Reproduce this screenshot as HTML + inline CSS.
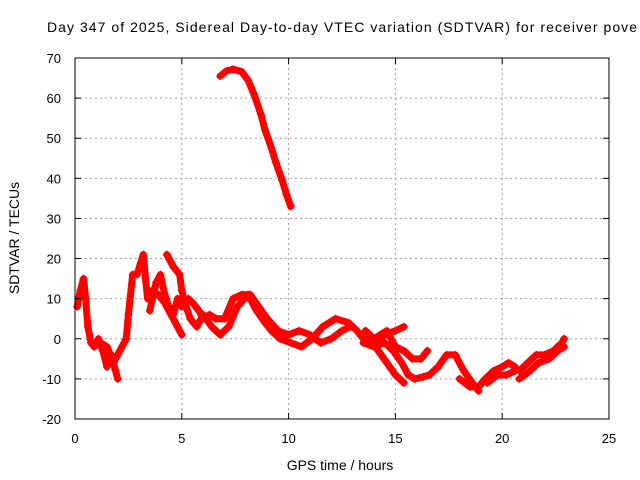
<!DOCTYPE html>
<html><head><meta charset="utf-8"><style>body{margin:0;background:#fff;overflow:hidden}svg{display:block;font-family:"Liberation Sans",sans-serif}</style></head>
<body>
<svg id="chart" width="640" height="480" viewBox="0 0 640 480">
<rect width="640" height="480" fill="#fff"/>
<text x="47" y="32" font-size="14" fill="#000" textLength="590" lengthAdjust="spacing">Day 347 of 2025, Sidereal Day-to-day VTEC variation (SDTVAR) for receiver pove</text>
<g id="grid"></g>
<g id="marks"></g>
<rect x="75" y="58" width="534" height="361" fill="none" stroke="#000" stroke-width="1"/>
<g id="ticks"></g>
<text x="340" y="470" font-size="14" text-anchor="middle">GPS time / hours</text>
<text transform="translate(19,238) rotate(-90)" font-size="14" text-anchor="middle">SDTVAR / TECUs</text>
</svg>
<script>
const xTicks=[0,5,10,15,20,25];
const yTicks=[-20,-10,0,10,20,30,40,50,60,70];
const trackA=[[6.8,65.5],[7.1,66.8],[7.4,67.2],[7.8,66.6],[8.1,64.5],[8.4,60.7],[8.7,56],[8.9,52],[9.2,47.5],[9.4,44],[9.7,39.5],[9.9,36],[10.1,33]];
const trackB=[[0.1,8],[0.25,12],[0.4,15],[0.5,10],[0.6,3],[0.75,-1],[0.9,-2],[1.1,0],[1.3,-3],[1.5,-7],[1.7,-4],[1.9,-8],[2.0,-10]];
const trackC=[[1.2,-1],[1.5,-2],[1.8,-6],[2.1,-3],[2.4,0],[2.5,6],[2.7,16],[2.9,16],[3.2,21],[3.3,15],[3.4,10],[3.6,12],[3.9,11],[4.2,9],[4.5,6],[4.8,3],[5.0,1]];
const trackD=[[3.5,7],[3.8,14],[4.0,16],[4.2,11],[4.4,8],[4.6,6],[4.8,10],[5.0,8],[5.3,10],[5.5,9],[5.8,7],[6.0,5],[6.3,6],[6.6,5],[7.0,5],[7.4,10],[7.8,11],[8.2,11],[8.6,8],[9.0,5],[9.5,2],[10.0,1],[10.5,2],[11.0,1],[11.5,-1],[12.0,0],[12.5,2],[12.9,3]];
const trackE=[[4.3,21],[4.6,18],[4.9,16],[5.0,12],[5.2,8],[5.4,5],[5.7,3],[6.0,6],[6.4,3],[6.8,1],[7.2,3],[7.6,8],[8.1,11],[8.5,7],[8.9,4],[9.2,2],[9.6,0],[10.1,-1],[10.6,-2],[11.1,0],[11.6,3],[12.2,5],[12.8,4],[13.2,2],[13.5,0],[14.0,-1],[14.5,1],[15.0,2],[15.4,3]];
const trackG=[[13.5,-1],[14.0,-2],[14.5,-1],[14.9,-3],[15.3,-6],[15.6,-9],[15.9,-10],[16.3,-9.5],[16.6,-9],[17.0,-7],[17.4,-4],[17.8,-4],[18.2,-8],[18.6,-11],[18.9,-13]];
const trackH=[[13.6,2],[14.0,0],[14.6,2],[15.0,-2],[15.4,-3],[15.8,-5],[16.2,-5],[16.5,-3]];
const trackF=[[13.8,0],[14.2,-3],[14.6,-6],[15.0,-9],[15.4,-11]];
const trackJ=[[18.0,-10],[18.5,-12],[18.9,-12],[19.2,-10],[19.6,-8],[20.0,-7],[20.3,-6],[20.6,-7]];
const trackK=[[19.3,-11],[19.8,-9],[20.2,-9],[20.6,-8]];
const trackL=[[20.8,-8],[21.2,-6],[21.6,-4],[22.0,-4],[22.4,-3],[22.8,-1],[22.9,0]];
const trackM=[[20.8,-10],[21.3,-8],[21.7,-6],[22.2,-5],[22.6,-3],[22.9,-2]];
const tracks=[trackA,trackB,trackC,trackD,trackE,trackF,trackG,trackH,trackJ,trackK,trackL,trackM];

const NS='http://www.w3.org/2000/svg';
const X0=75,X1=609,Y0=419,Y1=58;
function xs(t){return X0+(t-0)/25*(X1-X0);}
function ys(v){return Y0-(v+20)/90*(Y0-Y1);}
function mk(tag,attrs,parent){const e=document.createElementNS(NS,tag);for(const k in attrs)e.setAttribute(k,attrs[k]);parent.appendChild(e);return e;}
const grid=document.getElementById('grid'),ticks=document.getElementById('ticks'),marks=document.getElementById('marks');
xTicks.forEach(t=>{
  const x=xs(t);
  if(t>0&&t<25){const g=mk('line',{x1:x,x2:x,y1:Y1,y2:Y0,stroke:'#a0a0a0','stroke-dasharray':'2,3'},grid);
  
  }
  mk('line',{x1:x,x2:x,y1:Y0,y2:Y0-6,stroke:'#000'},ticks);
  mk('line',{x1:x,x2:x,y1:Y1,y2:Y1+6,stroke:'#000'},ticks);
  const l=mk('text',{x:x,y:443,'font-size':13,'text-anchor':'middle'},ticks);l.textContent=t;
  
  
});
yTicks.forEach(v=>{
  const y=ys(v);
  if(v>-20&&v<70){const g=mk('line',{x1:X0,x2:X1,y1:y,y2:y,stroke:'#a0a0a0','stroke-dasharray':'2,3'},grid);
  
  }
  mk('line',{x1:X0,x2:X0+6,y1:y,y2:y,stroke:'#000'},ticks);
  mk('line',{x1:X1,x2:X1-6,y1:y,y2:y,stroke:'#000'},ticks);
  const l=mk('text',{x:61,y:y+5,'font-size':13,'text-anchor':'end'},ticks);l.textContent=v;
  
  
});
tracks.forEach((tr,i)=>{
  const p=mk('polyline',{points:tr.map(d=>xs(d[0])+','+ys(d[1])).join(' '),fill:'none',stroke:'#ff0000','stroke-width':7,'stroke-linejoin':'round','stroke-linecap':'round'},marks);
  
  
  tr.forEach(d=>{
    const x=xs(d[0]),y=ys(d[1]);
    const m=mk('path',{d:`M${x-4},${y}h8M${x},${y-4}v8`,stroke:'#ff0000','stroke-width':1.2},marks);
    
    
  });
});
</script>
</body></html>
